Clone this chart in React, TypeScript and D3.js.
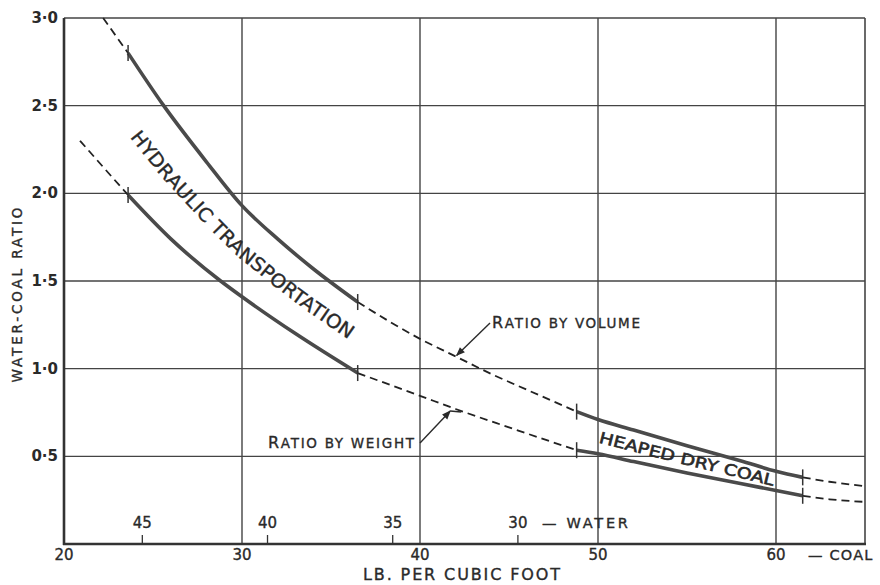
import React from "react";
import * as d3 from "d3";

// coal density (lb/ft3) along the bottom, water-coal ratio up the side
const coalTicks = [20, 30, 40, 50, 60];
const ratioTicks = [0.5, 1.0, 1.5, 2.0, 2.5, 3.0];
const ratioLabels = ["0·5", "1·0", "1·5", "2·0", "2·5", "3·0"];
const waterTicks = [45, 40, 35, 30];

// ratio by volume
const volumeCoal = [22.2, 23.6, 25.6, 28, 30, 32, 34, 36.5, 40, 42, 44, 46, 48.8, 50, 52, 55, 58, 60, 61.5, 63, 65];
const volumeRatio = [3.0, 2.8, 2.5, 2.18, 1.93, 1.74, 1.57, 1.38, 1.17, 1.07, 0.97, 0.88, 0.755, 0.71, 0.65, 0.56, 0.475, 0.415, 0.38, 0.355, 0.33];

// ratio by weight
const weightCoal = [20.9, 22.2, 23.6, 26, 28.8, 30, 33, 36.5, 40, 42, 45, 48.8, 50, 52, 55, 58, 60, 61.5, 63, 65];
const weightRatio = [2.3, 2.15, 1.99, 1.74, 1.5, 1.41, 1.2, 0.975, 0.845, 0.77, 0.665, 0.535, 0.515, 0.47, 0.405, 0.345, 0.305, 0.275, 0.255, 0.24];

// where the curves switch between dashed and solid (tick marks)
const breaks = [23.6, 36.5, 48.8, 61.5];

const FONT = "'DejaVu Sans', 'Liberation Sans', sans-serif";
const INK = "#2a2a2a";

const x = d3.scaleLinear().domain([20, 65]).range([64, 865]);
const y = d3.scaleLinear().domain([0, 3]).range([544, 18]);
// water density scale sits on the same axis, running the other way
const waterToCoal = d3.scaleLinear().domain([45, 30]).range([24.4, 45.5]);

const volAt = d3.scaleLinear().domain(volumeCoal).range(volumeRatio);
const wtAt = d3.scaleLinear().domain(weightCoal).range(weightRatio);

const line = d3
  .line<[number, number]>()
  .x((d) => x(d[0]))
  .y((d) => y(d[1]))
  .curve(d3.curveMonotoneX);

function segments(cs: number[], rs: number[]) {
  const pts: [number, number][] = cs.map((c, i) => [c, rs[i]]);
  const edges = [-Infinity, ...breaks, Infinity];
  const out: { d: string; dashed: boolean }[] = [];
  for (let i = 0; i < edges.length - 1; i++) {
    const seg = pts.filter((p) => p[0] >= edges[i] && p[0] <= edges[i + 1]);
    if (seg.length > 1) out.push({ d: line(seg) || "", dashed: i % 2 === 0 });
  }
  return out;
}

// label path midway between the two curves
function midPath(from: number, to: number) {
  const pts: [number, number][] = [];
  const n = 30;
  for (let i = 0; i <= n; i++) {
    const c = from + ((to - from) * i) / n;
    pts.push([x(c), (y(volAt(c)) + y(wtAt(c))) / 2]);
  }
  let len = 0;
  for (let i = 1; i < pts.length; i++)
    len += Math.hypot(pts[i][0] - pts[i - 1][0], pts[i][1] - pts[i - 1][1]);
  const d = d3.line().curve(d3.curveMonotoneX)(pts) || "";
  return { d, len };
}

// a touch of stroke so the lettering reads like pen work
const pen = { fill: INK, stroke: INK, strokeWidth: 0.35 };

const App = () => {
  const volSegs = segments(volumeCoal, volumeRatio);
  const wtSegs = segments(weightCoal, weightRatio);
  const hydraulic = midPath(24.0, 36.2);
  const heaped = midPath(50.1, 59.9);

  const volTip: [number, number] = [x(42), y(volAt(42))];
  const wtTip: [number, number] = [x(41.7), y(wtAt(41.7)) + 4];

  return (
    <svg
      width={880}
      height={585}
      style={{ position: "absolute", left: 0, top: 0, background: "#fff" }}
      fontFamily={FONT}
    >
      <defs>
        <marker
          id="arr"
          viewBox="0 0 10 10"
          refX={9}
          refY={5}
          markerWidth={11}
          markerHeight={9}
          markerUnits="userSpaceOnUse"
          orient="auto"
        >
          <path d="M0,1 L10,5 L0,9 Z" fill={INK} />
        </marker>
        <path id="hydPath" d={hydraulic.d} />
        <path id="heapPath" d={heaped.d} />
      </defs>

      {/* grid */}
      {coalTicks.slice(1).map((c) => (
        <line key={"gx" + c} x1={x(c)} x2={x(c)} y1={y(3)} y2={y(0)} stroke="#444" strokeWidth={1.4} />
      ))}
      {ratioTicks.map((r) => (
        <line key={"gy" + r} x1={x(20)} x2={x(65)} y1={y(r)} y2={y(r)} stroke="#444" strokeWidth={1.4} />
      ))}
      <line x1={x(65)} x2={x(65)} y1={y(3)} y2={y(0)} stroke="#444" strokeWidth={1.6} />

      {/* axes */}
      <line x1={x(20)} x2={x(20)} y1={y(3)} y2={y(0) + 1} stroke="#333" strokeWidth={2.6} />
      <line x1={x(20) - 1} x2={x(65) + 1} y1={y(0)} y2={y(0)} stroke="#333" strokeWidth={2.6} />

      {/* y tick labels */}
      {ratioTicks.map((r, i) => (
        <text
          key={"yl" + r}
          x={58}
          y={y(r) + 5}
          textAnchor="end"
          fontSize={15}
          fontWeight={600}
          fill={INK}
        >
          {ratioLabels[i]}
        </text>
      ))}

      {/* coal tick labels */}
      {coalTicks.map((c) => (
        <text key={"xl" + c} x={x(c)} y={560} textAnchor="middle" fontSize={15} {...pen}>
          {c}
        </text>
      ))}
      <text x={808} y={560} fontSize={14.5} letterSpacing={1.2} {...pen}>
        — COAL
      </text>

      {/* water scale */}
      {waterTicks.map((w) => (
        <g key={"w" + w}>
          <line
            x1={x(waterToCoal(w))}
            x2={x(waterToCoal(w))}
            y1={y(0)}
            y2={y(0) - 9}
            stroke="#333"
            strokeWidth={1.3}
          />
          <text x={x(waterToCoal(w))} y={528} textAnchor="middle" fontSize={15} {...pen}>
            {w}
          </text>
        </g>
      ))}
      <text x={x(waterToCoal(30)) + 24} y={528} textLength={86} lengthAdjust="spacing" fontSize={14.5} {...pen}>
        — WATER
      </text>

      {/* axis titles */}
      <text x={363} y={580} fontSize={16} textLength={197} lengthAdjust="spacing" {...pen}>
        LB. PER CUBIC FOOT
      </text>
      <text
        transform="translate(22,295) rotate(-90)"
        textAnchor="middle"
        fontSize={13.5}
        textLength={175}
        lengthAdjust="spacing"
        {...pen}
      >
        WATER-COAL RATIO
      </text>

      {/* curves */}
      {[...volSegs, ...wtSegs].map((s, i) => (
        <path
          key={"s" + i}
          d={s.d}
          fill="none"
          stroke={s.dashed ? "#222" : "#4a4a4a"}
          strokeWidth={s.dashed ? 1.8 : 3.6}
          strokeDasharray={s.dashed ? "8,5" : undefined}
        />
      ))}
      {breaks.map((b) =>
        [volAt(b), wtAt(b)].map((r, j) => (
          <line
            key={"t" + b + j}
            x1={x(b)}
            x2={x(b)}
            y1={y(r) - 8}
            y2={y(r) + 8}
            stroke="#333"
            strokeWidth={1.5}
          />
        ))
      )}

      {/* curve labels */}
      <text fontSize={19} dy="0.36em" {...pen}>
        <textPath href="#hydPath" textLength={hydraulic.len} lengthAdjust="spacingAndGlyphs">
          HYDRAULIC TRANSPORTATION
        </textPath>
      </text>
      <text fontSize={15.5} dy="0.36em" fill={INK} stroke={INK} strokeWidth={0.6}>
        <textPath href="#heapPath" textLength={heaped.len} lengthAdjust="spacingAndGlyphs">
          HEAPED DRY COAL
        </textPath>
      </text>

      {/* annotations */}
      <text x={492} y={328} textLength={148} lengthAdjust="spacing" {...pen}>
        <tspan fontSize={16}>R</tspan>
        <tspan fontSize={13.5}>ATIO BY VOLUME</tspan>
      </text>
      <line
        x1={490}
        y1={323}
        x2={volTip[0] + 1}
        y2={volTip[1] - 1}
        stroke={INK}
        strokeWidth={1.4}
        markerEnd="url(#arr)"
      />
      <text x={268} y={448} textLength={146} lengthAdjust="spacing" {...pen}>
        <tspan fontSize={16}>R</tspan>
        <tspan fontSize={13.5}>ATIO BY WEIGHT</tspan>
      </text>
      <line
        x1={420}
        y1={443}
        x2={wtTip[0]}
        y2={wtTip[1]}
        stroke={INK}
        strokeWidth={1.4}
        markerEnd="url(#arr)"
      />
      <line x1={wtTip[0]} y1={wtTip[1]} x2={wtTip[0] + 11} y2={wtTip[1] + 1} stroke={INK} strokeWidth={1.4} />
    </svg>
  );
};

export default App;
